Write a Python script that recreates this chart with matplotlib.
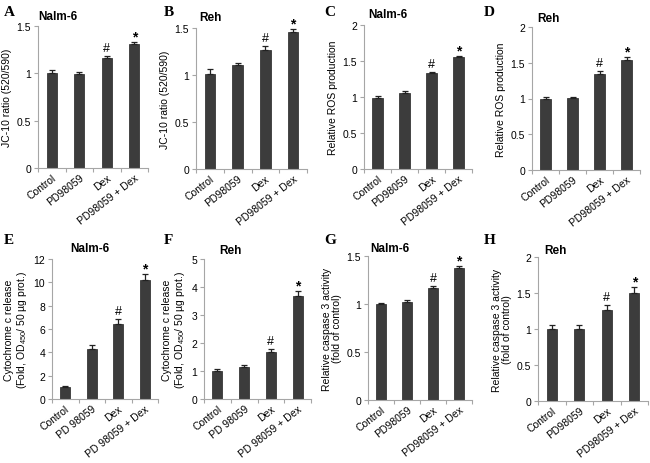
import matplotlib
matplotlib.use("Agg")
import matplotlib.pyplot as plt
import matplotlib.transforms as mtransforms
import numpy as np

plt.rcParams['font.family'] = ['Liberation Sans', 'DejaVu Sans']
plt.rcParams['mathtext.fontset'] = 'custom'
plt.rcParams['mathtext.rm'] = 'Liberation Sans'
plt.rcParams['mathtext.it'] = 'Liberation Sans'

cats_a = ["Control", "PD98059", "Dex", "PD98059 + Dex"]
cats_b = ["Control", "PD 98059", "Dex", "PD 98059 + Dex"]

vals_A = [1.00, 0.99, 1.16, 1.31]
err_A = [0.04, 0.02, 0.02, 0.02]
vals_B = [1.01, 1.11, 1.27, 1.46]
err_B = [0.05, 0.02, 0.04, 0.03]
vals_C = [0.99, 1.06, 1.33, 1.55]
err_C = [0.02, 0.02, 0.02, 0.02]
vals_D = [1.00, 1.01, 1.34, 1.54]
err_D = [0.02, 0.01, 0.04, 0.04]
vals_E = [1.00, 4.32, 6.45, 10.2]
err_E = [0.08, 0.28, 0.38, 0.55]
vals_F = [1.00, 1.14, 1.68, 3.67]
err_F = [0.08, 0.08, 0.11, 0.19]
vals_G = [1.00, 1.02, 1.17, 1.377]
err_G = [0.01, 0.02, 0.015, 0.02]
vals_H = [1.00, 1.00, 1.265, 1.50]
err_H = [0.05, 0.05, 0.07, 0.08]

yticks_A = [0, 0.5, 1, 1.5]
yticks_C = [0, 0.5, 1, 1.5, 2]
yticks_E = [0, 2, 4, 6, 8, 10, 12]
yticks_F = [0, 1, 2, 3, 4, 5]

W, H = 650, 464
fig = plt.figure(figsize=(6.5, 4.64), dpi=100)

def ax_at(l, r, t, b):
    return fig.add_axes([l / W, 1 - b / H, (r - l) / W, (b - t) / H])

panels = [
    ("A", (38, 148, 27, 169), vals_A, err_A, cats_a, yticks_A, "JC-10 ratio (520/590)", "Nalm-6", 58, 17, (4, 12)),
    ("B", (196, 307, 29, 170), vals_B, err_B, cats_a, yticks_A, "JC-10 ratio (520/590)", "Reh", 210, 18, (164, 12)),
    ("C", (364, 472, 26, 170), vals_C, err_C, cats_a, yticks_C, "Relative ROS production", "Nalm-6", 388, 15, (324, 12)),
    ("D", (532, 640, 28, 171), vals_D, err_D, cats_a, yticks_C, "Relative ROS production", "Reh", 548, 19, (484, 12)),
    ("E", (52, 158, 260, 400), vals_E, err_E, cats_b, yticks_E,
     "Cytochrome c release\n(Fold, OD$_{450}$/ 50 µg prot.)", "Nalm-6", 90, 249, (4, 241)),
    ("F", (204, 311, 260, 400), vals_F, err_F, cats_b, yticks_F,
     "Cytochrome c release\n(Fold, OD$_{450}$/ 50 µg prot.)", "Reh", 230, 251, (164, 241)),
    ("G", (368, 472, 257, 401), vals_G, err_G, cats_a, yticks_A,
     "Relative caspase 3 activity\n(fold of control)", "Nalm-6", 390, 249, (324, 241)),
    ("H", (538, 648, 258, 402), vals_H, err_H, cats_a, yticks_C,
     "Relative caspase 3 activity\n(fold of control)", "Reh", 555, 251, (484, 241)),
]

spine_col = "#a6a6a6"
bar_col = "#3c3c3c"

for letter, box, vals, errs, cats, yt, ylab, title, tx, ty, lxy in panels:
    ax = ax_at(*box)
    x = np.arange(len(vals))
    ax.bar(x, vals, width=0.38, color=bar_col, edgecolor="#222222", linewidth=0.5, zorder=2)
    ax.errorbar(x, vals, yerr=[np.zeros(len(errs)), errs], fmt="none",
                ecolor="#222222", elinewidth=0.9, capsize=2.5, capthick=0.9, zorder=3)
    ax.set_xlim(-0.5, len(vals) - 0.5)
    ax.set_ylim(yt[0], yt[-1])
    ax.set_yticks(yt)
    ax.set_yticklabels([("%g" % v) for v in yt], fontsize=7.5)
    ax.set_xticks(x)
    ax.set_xticklabels(cats, rotation=38, ha="right", va="top", rotation_mode="anchor", fontsize=7.5)
    offset = mtransforms.ScaledTranslation(5 / 100, 0, fig.dpi_scale_trans)
    for lab in ax.get_xticklabels():
        lab.set_transform(lab.get_transform() + offset)
    ax.tick_params(axis="x", which="major", length=0, pad=3)
    ax.set_xticks(np.arange(-0.5, len(vals), 1.0), minor=True)
    ax.tick_params(axis="x", which="minor", length=3, color=spine_col, width=0.8)
    ax.tick_params(axis="y", length=3, color=spine_col, width=0.8, pad=2)
    for s in ("top", "right"):
        ax.spines[s].set_visible(False)
    for s in ("left", "bottom"):
        ax.spines[s].set_color(spine_col)
        ax.spines[s].set_linewidth(0.8)
    ax.spines["left"].set_zorder(4)
    ax.set_ylabel(ylab, fontsize=7.5, labelpad=3, linespacing=1.1)
    ax.patch.set_visible(False)
    ax.annotate("#", (2, vals[2] + errs[2]), xytext=(0, 1.5), textcoords="offset points",
                ha="center", va="bottom", fontsize=9)
    ax.annotate("*", (3, vals[3] + errs[3]), xytext=(0, -1), textcoords="offset points",
                ha="center", va="bottom", fontsize=10, fontweight="bold")
    fig.text(tx / W, 1 - ty / H, title, fontsize=8.5, fontweight="bold", ha="center", va="center")
    fig.text(lxy[0] / W, 1 - lxy[1] / H, letter, fontsize=11, fontweight="bold",
             family=["Liberation Serif", "DejaVu Serif"], ha="left", va="center")

fig.savefig("out.png", dpi=100)
